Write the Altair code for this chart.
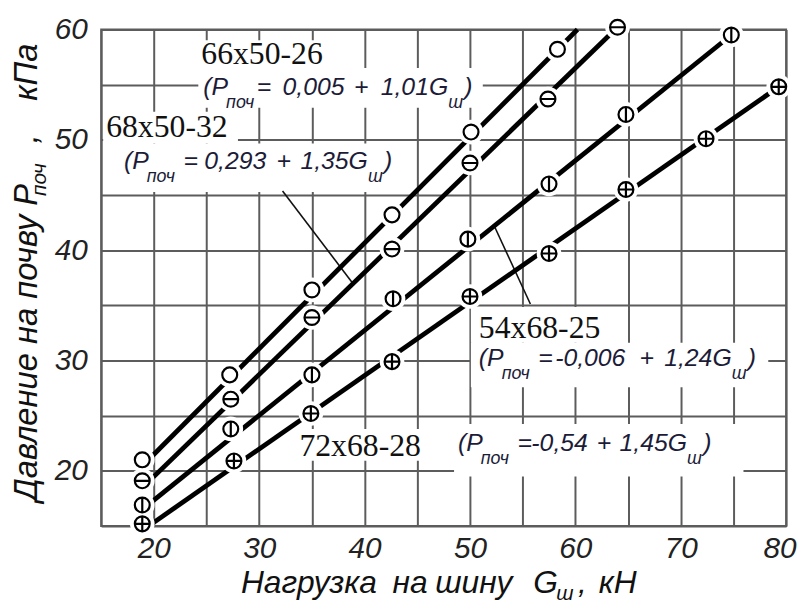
import altair as alt
import pandas as pd

# ---------------- data ----------------
tire_names = ["66x50-26", "68x50-32", "54x68-25", "72x68-28"]
eq_const = ["0,005", "0,293", "-0,006", "-0,54"]
eq_coef = ["1,01", "1,35", "1,24", "1,45"]

# measured points (load kN, pressure kPa)
x_A = [18.9, 27.2, 35.0, 42.6, 50.1, 58.3]
y_A = [21.0, 28.7, 36.4, 43.2, 50.7, 58.2]
x_B = [18.9, 27.3, 35.0, 42.6, 50.0, 57.4, 64.0]
y_B = [19.1, 26.5, 33.9, 40.1, 47.9, 53.7, 60.2]
x_C = [18.9, 27.3, 35.0, 42.7, 49.8, 57.5, 64.8, 74.8]
y_C = [16.9, 23.8, 28.7, 35.6, 41.0, 46.0, 52.3, 59.5]
x_D = [18.9, 27.6, 34.9, 42.6, 50.0, 57.5, 64.8, 72.4, 79.3]
y_D = [15.2, 20.9, 25.2, 29.9, 35.8, 39.7, 45.5, 50.1, 54.8]

# fitted straight lines (start / end)
line_x_A = [19.8, 60.2]
line_y_A = [21.3, 60.0]
line_x_B = [19.8, 64.0]
line_y_B = [19.3, 60.2]
line_x_C = [19.8, 74.8]
line_y_C = [17.2, 59.5]
line_x_D = [19.8, 79.3]
line_y_D = [15.2, 54.8]

x_ticks = list(range(15, 81, 5))
y_ticks = list(range(15, 61, 5))

# ---------------- tables ----------------
pts = pd.concat([
    pd.DataFrame({"s": name, "x": xs, "y": ys})
    for name, xs, ys in zip(tire_names, [x_A, x_B, x_C, x_D], [y_A, y_B, y_C, y_D])
])
lines = pd.concat([
    pd.DataFrame({"s": name, "x": xs, "y": ys, "o": range(len(xs))})
    for name, xs, ys in zip(tire_names,
                            [line_x_A, line_x_B, line_x_C, line_x_D],
                            [line_y_A, line_y_B, line_y_C, line_y_D])
])
one = pd.DataFrame({"a": [0]})

# ---------------- styles ----------------
W, H = 691, 501
X0, Y0 = 102, 27          # page position of plot origin
GRID = "#5c5c5c"
AXFONT = "Liberation Sans, Arial, sans-serif"
EQFONT = "Liberation Sans, Arial, sans-serif"
SERIF = "Liberation Serif, Times New Roman, serif"
EQCOL = "#1c1c38"
EQ_MAIN, EQ_SUB = 25, 18

# Arial-like advance widths (em) used to chain text pieces
ADV = {**{d: 0.556 for d in "0123456789"}, ",": 0.278, "-": 0.333, "(": 0.333, ")": 0.333,
       "P": 0.667, "G": 0.778, "=": 0.584, "+": 0.584, "п": 0.56, "о": 0.56,
       "ч": 0.54, "ш": 0.85}


def tw(s, size):
    return sum(ADV.get(ch, 0.55) for ch in s) * size


CIRC = "M-1,0A1,1 0 1,1 1,0A1,1 0 1,1 -1,0Z"
shapes = [CIRC, CIRC + "M-1,0L1,0", CIRC + "M0,-1L0,1", CIRC + "M-1,0L1,0M0,-1L0,1"]

xs = alt.Scale(domain=[15, 80], nice=False, zero=False)
ys = alt.Scale(domain=[15, 60], nice=False, zero=False)
x_axis = alt.Axis(values=x_ticks, labelExpr="datum.value % 10 == 0 ? datum.label : ''",
                  grid=True, ticks=False, domain=False, title=None,
                  labelFont=AXFONT, labelFontSize=30, labelFontStyle="italic",
                  labelColor="#222", labelPadding=8, gridColor=GRID, gridWidth=2,
                  labelOverlap=False, labelFlush=False,
                  labelAlign={"condition": {"test": "datum.value == 80", "value": "right"},
                              "value": "center"},
                  labelOffset={"condition": {"test": "datum.value == 80", "value": 10},
                               "value": 0})
y_axis = alt.Axis(values=y_ticks, labelExpr="datum.value % 10 == 0 ? datum.label : ''",
                  grid=True, ticks=False, domain=False, title=None,
                  labelFont=AXFONT, labelFontSize=30, labelFontStyle="italic",
                  labelColor="#222", labelPadding=14, gridColor=GRID, gridWidth=2,
                  labelOverlap=False, labelFlush=False)


def txt(s, px, py, size, font, style="normal", weight="normal", color="#111", angle=0):
    return alt.Chart(one).mark_text(
        text=s, align="left", baseline="alphabetic", font=font, fontSize=size,
        fontStyle=style, fontWeight=weight, color=color, angle=angle
    ).encode(x=alt.value(px - X0), y=alt.value(py - Y0))


def box(x1, x2, y1, y2):
    return alt.Chart(one).mark_rect(color="white").encode(
        x=alt.value(x1 - X0), x2=alt.value(x2 - X0),
        y=alt.value(y1 - Y0), y2=alt.value(y2 - Y0))


def leader(x1, y1, x2, y2):
    return alt.Chart(one).mark_rule(color="#111", strokeWidth=1.6).encode(
        x=alt.value(x1 - X0), y=alt.value(y1 - Y0),
        x2=alt.value(x2 - X0), y2=alt.value(y2 - Y0))


# base layer carrying the axes/grid
base = alt.Chart(pts).mark_point(opacity=0).encode(
    x=alt.X("x:Q", scale=xs, axis=x_axis),
    y=alt.Y("y:Q", scale=ys, axis=y_axis))

boxes = [
    box(200, 340, 38, 66), box(200, 487, 66, 106),
    box(104, 240, 110, 142), box(104, 410, 142, 191),
    box(475, 620, 307, 343), box(475, 775, 343, 388),
    box(298, 430, 430, 462), box(458, 750, 425, 478),
]
leaders = [leader(285, 190, 355, 282), leader(498, 224, 535, 304)]

line_layer = alt.Chart(lines).mark_line(color="black", strokeWidth=4.8).encode(
    x=alt.X("x:Q", scale=xs), y=alt.Y("y:Q", scale=ys), detail="s:N", order="o:Q")
halo = alt.Chart(pts).mark_point(shape=CIRC, size=620, filled=True, fill="white",
                                 opacity=1, strokeWidth=0).encode(
    x=alt.X("x:Q", scale=xs), y=alt.Y("y:Q", scale=ys))
markers = alt.Chart(pts).mark_point(filled=True, fill="white", stroke="black",
                                    strokeWidth=2.2, size=225, opacity=1).encode(
    x=alt.X("x:Q", scale=xs), y=alt.Y("y:Q", scale=ys),
    shape=alt.Shape("s:N", scale=alt.Scale(domain=tire_names, range=shapes), legend=None))

texts = []
# tyre names
name_pos = [(203, 62), (107, 135), (483, 338), (302, 457)]
for name, (px, py) in zip(tire_names, name_pos):
    texts.append(txt(name, px, py, 32, SERIF))

# equations: positions of "(P", "=", const, "+", coef G ; baseline
eq_pos = [
    (205, 258, 285, 357, 384, 93),
    (125, 185, 206, 279, 303, 168),
    (483, 543, 560, 645, 670, 367),
    (462, 522, 536, 602, 625, 452),
]
for c, k, (p0, p2, p3, p4, p5, b) in zip(eq_const, eq_coef, eq_pos):
    p1 = p0 + tw("(P", EQ_MAIN) - 2
    p2 = max(p2, p1 + tw("поч", EQ_SUB) + 1)
    p6 = p5 + tw(k + "G", EQ_MAIN)
    p7 = p6 + tw("ш", EQ_SUB) + 1
    texts += [
        txt("(P", p0, b, EQ_MAIN, EQFONT, "italic", color=EQCOL),
        txt("поч", p1, b + 13, EQ_SUB, EQFONT, "italic", color=EQCOL),
        txt("=", p2, b, EQ_MAIN, EQFONT, "italic", color=EQCOL),
        txt(c, p3, b, EQ_MAIN, EQFONT, "italic", color=EQCOL),
        txt("+", p4, b, EQ_MAIN, EQFONT, "italic", color=EQCOL),
        txt(k + "G", p5, b, EQ_MAIN, EQFONT, "italic", color=EQCOL),
        txt("ш", p6, b + 13, EQ_SUB, EQFONT, "italic", color=EQCOL),
        txt(")", p7, b, EQ_MAIN, EQFONT, "italic", color=EQCOL),
    ]

# x-axis title
texts += [
    txt("Нагрузка", 243, 596, 32, AXFONT, "italic"),
    txt("на", 396, 596, 32, AXFONT, "italic"),
    txt("шину", 439, 596, 32, AXFONT, "italic"),
    txt("G", 538, 596, 32, AXFONT, "italic"),
    txt("ш", 561, 603, 21, AXFONT, "italic"),
    txt(",", 583, 596, 32, AXFONT, "italic"),
    txt("кН", 604, 596, 32, AXFONT, "italic"),
]
# y-axis title (rotated)
texts += [
    txt("Давление на почву P", 37, 503, 33, AXFONT, "italic", angle=270),
    txt("поч", 46, 195, 21, AXFONT, "italic", angle=270),
    txt(",", 37, 142, 33, AXFONT, "italic", angle=270),
    txt("кПа", 37, 99, 33, AXFONT, "italic", angle=270),
]

chart = alt.layer(base, *boxes, *leaders, line_layer, halo, markers, *texts).properties(
    width=W, height=H,
    autosize=alt.AutoSizeParams(type="none"),
    padding={"left": 94, "top": 19, "right": 12, "bottom": 79},
    background="white",
).configure_view(stroke=GRID, strokeWidth=2)

chart.save("out.html", embed_options={"renderer": "svg", "actions": False})
